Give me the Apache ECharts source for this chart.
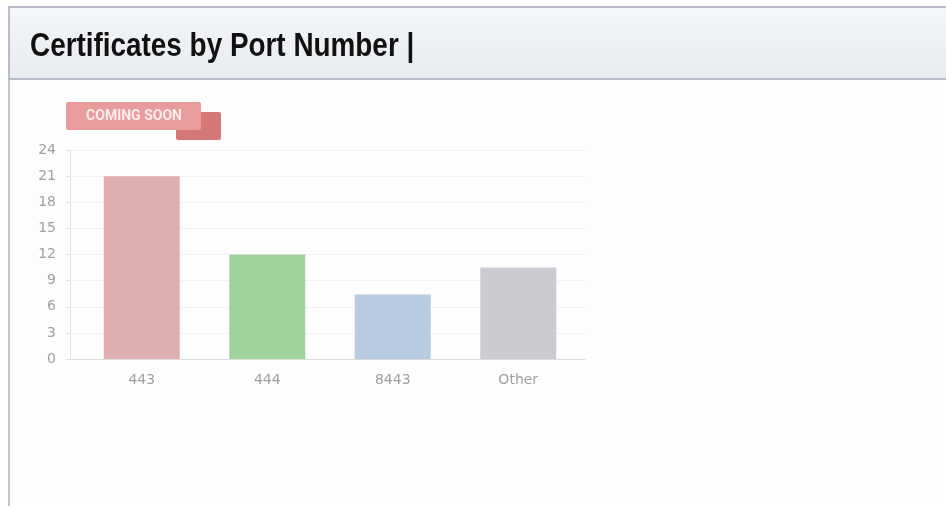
<!DOCTYPE html>
<html>
<head>
<meta charset="utf-8">
<script src="https://cdn.jsdelivr.net/npm/echarts@6/dist/echarts.min.js"></script>
<style>
  html, body { margin: 0; padding: 0; background: #ffffff; }
  #chart { width: 946px; height: 506px; }
</style>
</head>
<body>
<div id="chart"></div>
<script>
// Port categories and certificate counts
const ports = ['443', '444', '8443', 'Other'];
const certCounts = [21, 12, 7.4, 10.5];
const barColors = ['#dfafb0', '#9fd39c', '#b9cbe0', '#cbccd1'];
const yTicks = { min: 0, max: 24, interval: 3 };

const labelFont = { color: '#a0a0a0', fontSize: 14, fontFamily: '"DejaVu Sans", sans-serif' };

const chart = echarts.init(document.getElementById('chart'), null, { renderer: 'canvas' });

chart.setOption({
  backgroundColor: '#ffffff',
  animation: false,
  graphic: [
    // panel body
    { type: 'rect', z: -10, shape: { x: 9, y: 78, width: 960, height: 460 },
      style: { fill: '#fdfdfd', stroke: '#c3c6d2', lineWidth: 2 } },
    // header bar
    { type: 'rect', z: -9, shape: { x: 9, y: 7, width: 960, height: 72 },
      style: {
        fill: new echarts.graphic.LinearGradient(0, 0, 0, 1, [
          { offset: 0, color: '#f4f6f9' }, { offset: 1, color: '#e8ebef' }
        ]),
        stroke: '#b9bdc9', lineWidth: 2
      } },
    { type: 'text', z: 5, x: 30, y: 30, scaleX: 0.82, originX: 0,
      style: { text: 'Certificates by Port Number |', fill: '#111111',
        font: 'bold 34px "Liberation Sans", Arial, sans-serif' } },
    // "coming soon" ribbon
    { type: 'rect', z: 4, shape: { x: 176, y: 112, width: 45, height: 28, r: 2 },
      style: { fill: '#d47777' } },
    { type: 'rect', z: 5, shape: { x: 66, y: 102, width: 135, height: 28, r: 2 },
      style: { fill: '#e99c9c' } },
    { type: 'text', z: 6, x: 134, y: 116,
      style: { text: 'COMING SOON', fill: '#fbeeee', align: 'center', verticalAlign: 'middle',
        font: 'bold 14px Roboto, sans-serif' } }
  ],
  grid: [
    // frame: axis lines, value ticks and guide lines
    { left: 70, right: 361, top: 150, bottom: 147 },
    // bars and category labels
    { left: 79, right: 365, top: 150, bottom: 147 }
  ],
  xAxis: [
    { gridIndex: 0, type: 'category', data: ports,
      axisLine: { lineStyle: { color: '#dddddd' } },
      axisTick: { show: false }, axisLabel: { show: false } },
    { gridIndex: 1, type: 'category', data: ports,
      axisLine: { show: false }, axisTick: { show: false },
      axisLabel: Object.assign({ margin: 14 }, labelFont) }
  ],
  yAxis: [
    { gridIndex: 0, type: 'value',
      min: yTicks.min, max: yTicks.max, interval: yTicks.interval,
      axisLine: { show: true, lineStyle: { color: '#e2e2e2' } },
      axisTick: { show: true, length: 4, lineStyle: { color: '#e2e2e2' } },
      axisLabel: Object.assign({ margin: 14 }, labelFont),
      splitLine: { lineStyle: { color: '#f2f2f2' } } },
    { gridIndex: 1, type: 'value',
      min: yTicks.min, max: yTicks.max, interval: yTicks.interval,
      show: false, splitLine: { show: false } }
  ],
  series: [{
    type: 'bar',
    xAxisIndex: 1, yAxisIndex: 1,
    barWidth: 76,
    data: certCounts.map((v, i) => ({ value: v, itemStyle: { color: barColors[i] } }))
  }]
});
</script>
</body>
</html>
